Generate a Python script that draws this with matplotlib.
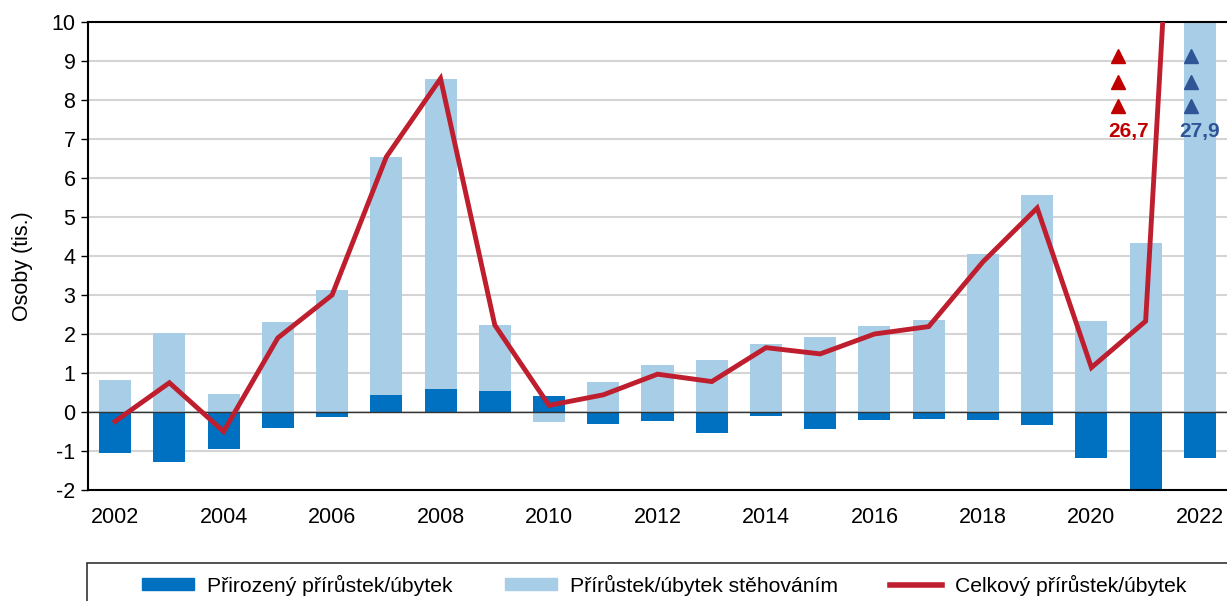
import numpy as np
import matplotlib.pyplot as plt
from matplotlib.patches import Rectangle
from matplotlib.lines import Line2D

plt.rcParams['font.family'] = ['Liberation Sans', 'DejaVu Sans']
plt.rcParams['axes.unicode_minus'] = False

years = np.arange(2002, 2023)
# prirozeny prirustek (tis.)
natural = [-1.06, -1.27, -0.95, -0.40, -0.12, 0.44, 0.59, 0.54, 0.42, -0.32, -0.24,
           -0.55, -0.09, -0.44, -0.21, -0.17, -0.20, -0.33, -1.19, -2.00, -1.19]
# prirustek stehovanim (tis.)
migration = [0.82, 2.02, 0.45, 2.30, 3.12, 6.10, 7.96, 1.69, -0.25, 0.76, 1.21,
             1.33, 1.74, 1.93, 2.21, 2.36, 4.05, 5.56, 2.33, 4.33, 27.9]
# celkovy prirustek (tis.)
total = [-0.24, 0.75, -0.50, 1.90, 3.00, 6.54, 8.55, 2.23, 0.17, 0.44, 0.97,
         0.78, 1.65, 1.49, 2.00, 2.19, 3.85, 5.23, 1.14, 2.33, 26.7]

c_nat = '#0070C0'
c_mig = '#A7CDE7'
c_tot = '#BE1E2D'

nat = np.array(natural)
mig = np.array(migration)
bottom = np.where(np.sign(nat) == np.sign(mig), nat, 0)

fig = plt.figure(figsize=(12.27, 6.01), dpi=100)
ax = fig.add_axes([88/1227, 1 - 490/601, 1 - 88/1227, (490 - 22)/601])

ax.bar(years, nat, width=0.59, color=c_nat, zorder=2)
ax.bar(years, mig, width=0.59, bottom=bottom, color=c_mig, zorder=2)
ax.plot(years, total, color=c_tot, lw=3.5, zorder=3, solid_joinstyle='miter')

ax.axhline(0, color='#333333', lw=1, zorder=2.5)

ax.set_xlim(2001.5, 2022.5)
ax.set_ylim(-2, 10)
ax.set_yticks(range(-2, 11))
ax.set_xticks(years[::2])
ax.yaxis.grid(True, color='#D4D4D4', lw=1.5, zorder=0)
ax.set_axisbelow(True)
ax.tick_params(axis='y', length=5, width=1, labelsize=15.5, pad=4)
ax.tick_params(axis='x', length=0, labelsize=15.5, pad=12)
for s in ['left', 'bottom', 'top']:
    ax.spines[s].set_linewidth(1.5)
    ax.spines[s].set_color('black')
ax.spines['right'].set_visible(False)
ax.set_ylabel('Osoby (tis.)', fontsize=15.5)
ax.yaxis.set_label_coords(-0.048, 0.479)

# sipky pro hodnoty mimo graf (2022)
for yv in [9.12, 8.47, 7.85]:
    ax.plot(2020.49, yv, marker='^', ms=10, color='#C00000', ls='none', zorder=4)
    ax.plot(2021.83, yv, marker='^', ms=10, color='#2F5597', ls='none', zorder=4)
ax.text(2020.68, 7.2, '26,7', color='#C00000', fontsize=15, fontweight='bold',
        ha='center', va='center', zorder=4)
ax.text(2022.0, 7.2, '27,9', color='#2F5597', fontsize=15, fontweight='bold',
        ha='center', va='center', zorder=4)

# legenda
fig.patches.append(Rectangle((87/1227, -0.05), 1.0, (601 - 563)/601 + 0.05,
                             transform=fig.transFigure, fill=False,
                             edgecolor='#333333', lw=1.2))
handles = [Rectangle((0, 0), 1, 1, color=c_nat),
           Rectangle((0, 0), 1, 1, color=c_mig),
           Line2D([], [], color=c_tot, lw=4)]
labels = ['Přirozený přírůstek/úbytek', 'Přírůstek/úbytek stěhováním',
          'Celkový přírůstek/úbytek']
fig.legend(handles, labels, loc='center left', bbox_to_anchor=(134/1227, 1 - 585/601),
           ncol=3, frameon=False, fontsize=15.2, handlelength=2.45, handleheight=0.5,
           handletextpad=0.6, columnspacing=2.5, borderaxespad=0)

fig.savefig('out.png', dpi=100)
